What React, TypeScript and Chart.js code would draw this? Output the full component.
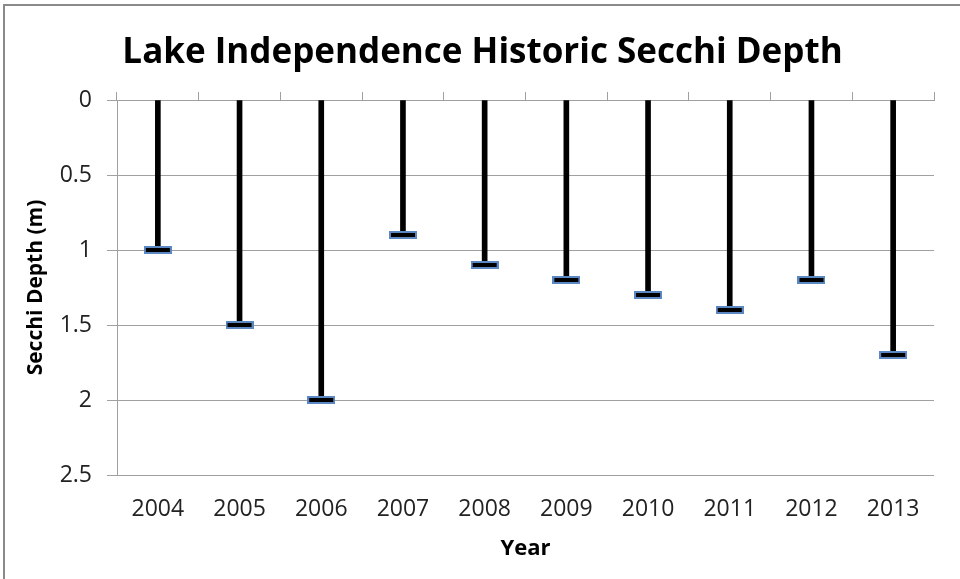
import React, { useEffect, useRef } from "react";
import { Chart, registerables } from "chart.js";

Chart.register(...registerables);

const years = ["2004", "2005", "2006", "2007", "2008", "2009", "2010", "2011", "2012", "2013"];
const secchiDepth = [1.0, 1.5, 2.0, 0.9, 1.1, 1.2, 1.3, 1.4, 1.2, 1.7];
const yMin = 0;
const yMax = 2.5;
const yStep = 0.5;
const titleText = "Lake Independence Historic Secchi Depth";
const yTitle = "Secchi Depth (m)";
const xTitle = "Year";

function makeMarker(): HTMLCanvasElement {
  const c = document.createElement("canvas");
  c.width = 28;
  c.height = 8;
  const ctx = c.getContext("2d")!;
  ctx.fillStyle = "#5b87c2";
  ctx.fillRect(0, 0, 28, 8);
  ctx.fillStyle = "#000000";
  ctx.fillRect(2, 2, 24, 4);
  return c;
}

export default function App() {
  const ref = useRef<HTMLCanvasElement | null>(null);

  useEffect(() => {
    document.body.style.margin = "0";
    if (!ref.current) return;
    const marker = makeMarker();
    const grid = "#a0a0a0";
    const font = "'Open Sans', sans-serif";
    const chart = new Chart(ref.current, {
      data: {
        labels: years,
        datasets: [
          {
            type: "line",
            label: "Secchi marker",
            data: secchiDepth,
            showLine: false,
            pointStyle: marker as any,
            pointRadius: 6,
            order: 1,
            xAxisID: "x",
            yAxisID: "y",
          },
          {
            type: "bar",
            label: "Secchi depth",
            data: secchiDepth.map((v) => [0, v]) as any,
            backgroundColor: "#000000",
            borderWidth: 0,
            barThickness: 5,
            order: 2,
            xAxisID: "x",
            yAxisID: "y",
          },
        ],
      },
      options: {
        responsive: false,
        animation: false,
        layout: { padding: { left: 5, right: 0, top: 0, bottom: 0 } },
        plugins: {
          legend: { display: false },
          tooltip: { enabled: false },
          title: {
            display: true,
            text: titleText,
            color: "#000",
            font: { family: font, size: 35, weight: "bold" },
            padding: { top: 32, bottom: 18 },
          },
        },
        scales: {
          x: {
            type: "category",
            position: "bottom",
            grid: { display: false },
            border: { display: false },
            ticks: {
              color: "#222",
              font: { family: font, size: 23 },
              padding: 13,
              maxRotation: 0,
              autoSkip: false,
            },
            title: {
              display: true,
              text: xTitle,
              color: "#000",
              font: { family: font, size: 22, weight: "bold" },
              padding: { top: 0, bottom: 17 },
            },
            afterFit: (s: any) => {
              s.height = 104;
            },
          },
          xTop: {
            type: "category",
            position: "top",
            labels: years,
            offset: true,
            grid: {
              offset: true,
              drawOnChartArea: false,
              drawTicks: true,
              tickLength: 8,
              color: grid,
            },
            border: { display: true, color: grid },
            ticks: { display: false },
            afterFit: (s: any) => {
              s.height = 8;
            },
          },
          y: {
            type: "linear",
            reverse: true,
            min: yMin,
            max: yMax,
            grid: { color: grid, tickLength: 10, drawTicks: true },
            border: { display: true, color: grid },
            ticks: {
              stepSize: yStep,
              color: "#222",
              font: { family: font, size: 23 },
              padding: 15,
              callback: (v: any) => String(Number(v)),
            },
            title: {
              display: true,
              text: yTitle,
              color: "#000",
              font: { family: font, size: 21, weight: "bold" },
              padding: { top: 18, bottom: 0 },
            },
            afterFit: (s: any) => {
              s.width = 112;
            },
          },
          yRight: {
            type: "linear",
            position: "right",
            display: true,
            grid: { display: false, drawTicks: false },
            border: { display: false },
            ticks: { display: false },
            afterFit: (s: any) => {
              s.width = 26;
            },
          },
        },
      },
    });
    return () => chart.destroy();
  }, []);

  return (
    <div style={{ position: "relative", width: 960, height: 579, background: "#fff" }}>
      <canvas ref={ref} width={960} height={579} style={{ display: "block" }} />
      <div
        style={{
          position: "absolute",
          left: 3,
          top: 4,
          right: 0,
          bottom: 0,
          borderLeft: "2px solid #8a8a8a",
          borderTop: "2px solid #8a8a8a",
          pointerEvents: "none",
        }}
      />
    </div>
  );
}
